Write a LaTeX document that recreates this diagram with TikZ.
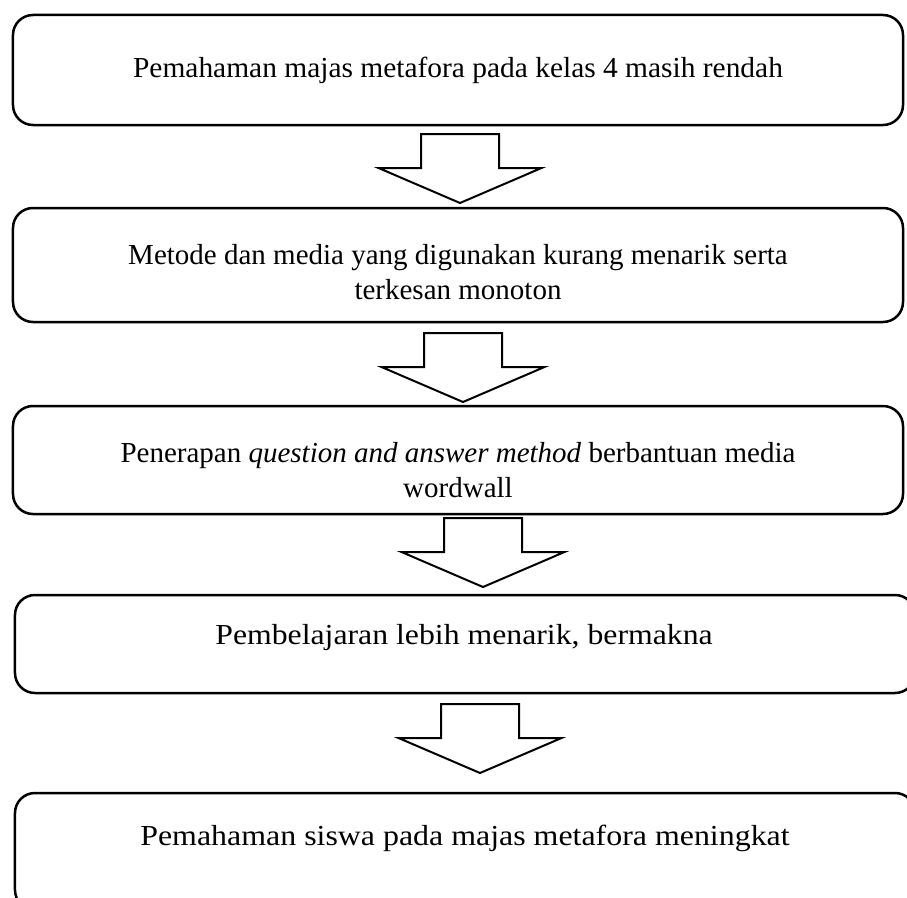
\documentclass[tikz,border=0pt]{standalone}
\usepackage{graphicx}
\usepackage{fontspec}
\setmainfont{Liberation Serif}
\tikzset{
  box/.style={draw, line width=2.5bp, rounded corners=20bp, inner sep=0pt},
  txt/.style={align=center, font=\fontsize{29bp}{35bp}\selectfont, inner sep=0pt},
  blockarrow/.style={draw, line width=2bp, line join=miter, fill=white},
  blockdown/.pic={\draw[blockarrow] (-39,0) -- (39,0) -- (39,34) -- (81.5,34) -- (0,69) -- (-81.5,34) -- (-39,34) -- cycle;}
}
\begin{document}
\begin{tikzpicture}[x=1bp,y=-1bp]
\clip (0,0) rectangle (907,898);
\fill[white] (0,0) rectangle (907,898);
% boxes
\node[box, minimum width=890bp, minimum height=110bp] (b1) at (458,70) {};
\node[box, minimum width=890bp, minimum height=114bp] (b2) at (458,265) {};
\node[box, minimum width=890bp, minimum height=108bp] (b3) at (458,460) {};
\node[box, minimum width=900bp, minimum height=98bp] (b4) at (465,644) {};
\node[box, minimum width=900bp, minimum height=117bp] (b5) at (465,851.5) {};
% texts
\node[txt] (t1) at (458,70) {\scalebox{1.015}[1]{Pemahaman majas metafora pada kelas 4 masih rendah}};
\node[txt] (t2) at (458,272) {Metode dan media yang digunakan kurang menarik serta\\terkesan monoton};
\node[txt] (t3) at (458,470) {Penerapan \textit{question and answer method} berbantuan media\\wordwall};
\node[txt] (t4) at (464,638) {\scalebox{1.095}[1]{Pembelajaran lebih menarik, bermakna}};
\node[txt] (t5) at (465,838) {\scalebox{1.1}[1]{Pemahaman siswa pada majas metafora meningkat}};
% block arrows
\coordinate (a1) at (460,134);
\coordinate (a2) at (463,333);
\coordinate (a3) at (483,518);
\coordinate (a4) at (480,704);
\pic at (a1) {blockdown};
\pic at (a2) {blockdown};
\pic at (a3) {blockdown};
\pic at (a4) {blockdown};
\end{tikzpicture}
\end{document}
